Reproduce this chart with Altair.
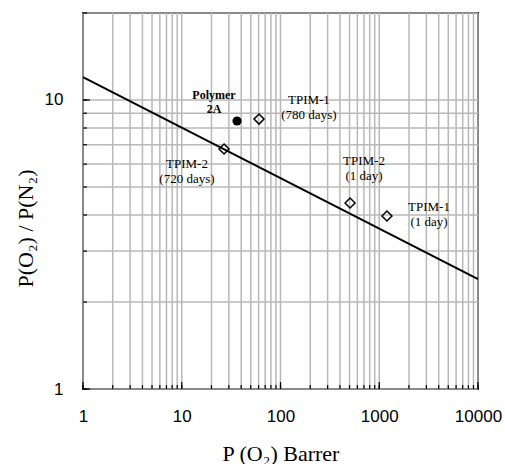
import altair as alt
import pandas as pd

# ---- data ----
tpim_x = [60.6, 26.8, 506, 1197]
tpim_y = [8.59, 6.77, 4.40, 3.97]
poly_x = [36.3]
poly_y = [8.46]

bound_x = [1, 10000]
bound_y = [12.0, 2.4]

label_text = [["TPIM-1", "(780 days)"], ["TPIM-2", "(720 days)"], ["TPIM-2", "(1 day)"], ["TPIM-1", "(1 day)"]]
label_x = [194, 11.3, 701, 3190]
label_y = [10.0, 6.01, 6.15, 4.26]
poly_label = [["Polymer", "2A"]]
poly_label_x = [21.2]
poly_label_y = [10.4]

x_grid = [m * 10 ** d for d in range(4) for m in range(1, 10)] + [10000]
y_grid = [1, 2, 3, 4, 5, 6, 7, 8, 9, 10, 20]
x_major = [1, 10, 100, 1000, 10000]
y_major = [1, 10]

W, H = 395, 376

xs = alt.Scale(type="log", domain=[1, 10000], nice=False)
ys = alt.Scale(type="log", domain=[1, 20], nice=False)

xaxis = alt.Axis(values=x_major, format="d", grid=False, ticks=False, domain=False,
                 labelFont="Liberation Sans", labelFontSize=17, labelColor="black",
                 labelPadding=19, labelFlush=False,
                 title="P (O\u2082) Barrer", titleFont="Liberation Serif", titleFontSize=22,
                 titleFontWeight="normal", titleColor="black", titlePadding=19)
yaxis = alt.Axis(values=y_major, format="d", grid=False, ticks=False, domain=False,
                 labelFont="Liberation Sans", labelFontSize=17, labelColor="black",
                 labelPadding=20,
                 title="P(O\u2082) / P(N\u2082)", titleFont="Liberation Serif", titleFontSize=22,
                 titleFontWeight="normal", titleColor="black",
                 titleX=-58, titleY=215, titleAngle=-90, titleBaseline="middle", titleAlign="center")


def X():
    return alt.X("x:Q", scale=xs, axis=xaxis)


def Y():
    return alt.Y("y:Q", scale=ys, axis=yaxis)


grid_col = "#b8b8b8"

xgrid = alt.Chart(pd.DataFrame({"x": x_grid})).mark_rule(color=grid_col, strokeWidth=1.5).encode(x=X())
ygrid = alt.Chart(pd.DataFrame({"y": y_grid})).mark_rule(color=grid_col, strokeWidth=1.5).encode(y=Y())

xminor = alt.Chart(pd.DataFrame({"x": x_grid})).mark_rule(color="black", strokeWidth=1.2).encode(
    x=X(), y=alt.value(H), y2=alt.value(H - 4))
xmajor = alt.Chart(pd.DataFrame({"x": x_major})).mark_rule(color="black", strokeWidth=1.2).encode(
    x=X(), y=alt.value(H), y2=alt.value(H - 7))
yminor = alt.Chart(pd.DataFrame({"y": y_grid})).mark_rule(color="black", strokeWidth=1.2).encode(
    y=Y(), x=alt.value(0), x2=alt.value(4))
ymajor = alt.Chart(pd.DataFrame({"y": y_major})).mark_rule(color="black", strokeWidth=1.2).encode(
    y=Y(), x=alt.value(0), x2=alt.value(7))

bound = alt.Chart(pd.DataFrame({"x": bound_x, "y": bound_y})).mark_line(
    color="black", strokeWidth=1.8, clip=True).encode(x=X(), y=Y())

tpim = alt.Chart(pd.DataFrame({"x": tpim_x, "y": tpim_y})).mark_point(
    shape="diamond", filled=False, color="black", strokeWidth=1.5, size=100, opacity=1).encode(x=X(), y=Y())
poly = alt.Chart(pd.DataFrame({"x": poly_x, "y": poly_y})).mark_point(
    shape="circle", filled=True, color="black", size=85, opacity=1).encode(x=X(), y=Y())

labels = alt.Chart(pd.DataFrame({"x": label_x, "y": label_y, "t": label_text})).mark_text(
    font="Liberation Serif", fontSize=13, color="black", lineHeight=15, align="center",
    baseline="middle").encode(x=X(), y=Y(), text="t")
plabel = alt.Chart(pd.DataFrame({"x": poly_label_x, "y": poly_label_y, "t": poly_label})).mark_text(
    font="Liberation Serif", fontSize=12, fontWeight="bold", color="black", lineHeight=14,
    align="center", baseline="middle").encode(x=X(), y=Y(), text="t")

chart = alt.layer(xgrid, ygrid, xminor, xmajor, yminor, ymajor, bound, tpim, poly, labels, plabel).properties(
    width=W, height=H,
    autosize=alt.AutoSizeParams(type="none"),
    padding={"left": 83, "top": 13, "right": 27, "bottom": 75},
    background="white",
).configure_view(stroke="black", strokeWidth=2)

chart.save("out.html", embed_options={"renderer": "svg", "actions": False})
